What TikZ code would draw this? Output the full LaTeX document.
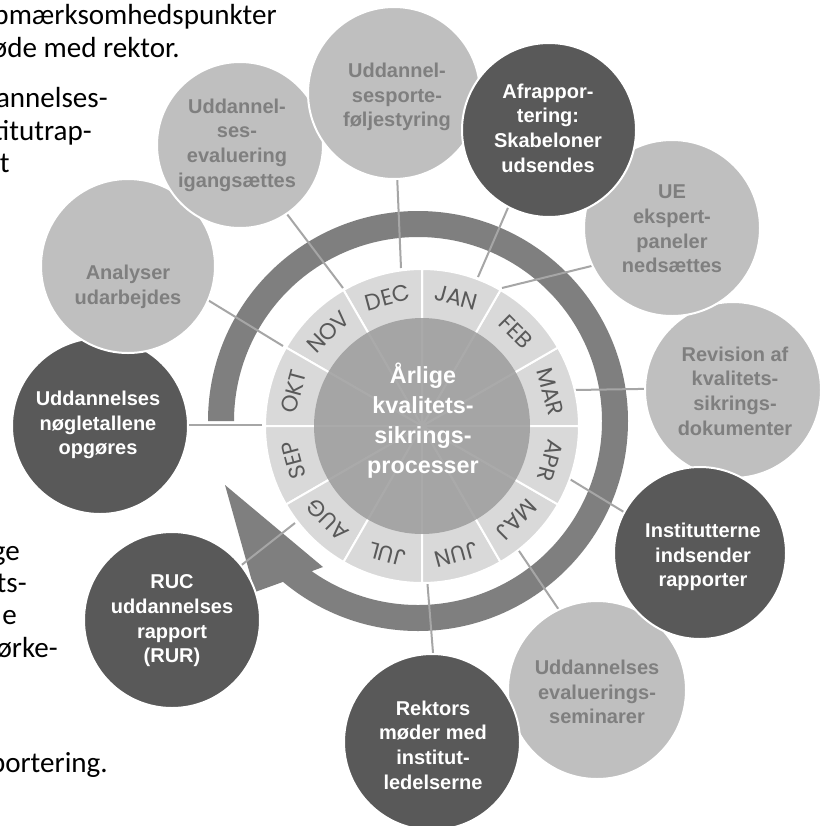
\documentclass[tikz,border=0pt]{standalone}
\usepackage{fontspec}
\setmainfont{Liberation Sans}
\newfontfamily\calfont{Carlito}
\newfontfamily\monfont{Poppins}
\usetikzlibrary{calc}
\definecolor{bandc}{HTML}{7F7F7F}
\definecolor{ringc}{HTML}{D9D9D9}
\definecolor{innerc}{HTML}{9C9C9C}
\definecolor{lightc}{HTML}{BFBFBF}
\definecolor{lighttext}{HTML}{7F7F7F}
\definecolor{darkc}{HTML}{595959}
\definecolor{monthtext}{HTML}{595959}
\definecolor{linkc}{HTML}{A6A6A6}
\begin{document}
\begin{tikzpicture}[x=0.75pt,y=0.75pt,
  bodytext/.style={font=\calfont\fontsize{21.8}{26}\selectfont, anchor=base east, inner sep=0pt, text=black},
  link/.style={draw=linkc, line width=1.5pt},
  month/.style={font=\monfont\fontsize{17}{17}\selectfont, text=monthtext, inner sep=0pt},
  lightcirc/.style={circle, fill=lightc, draw=white, line width=1.5pt, inner sep=0pt},
  darkcirc/.style={circle, fill=darkc, draw=white, line width=1.5pt, inner sep=0pt},
  ltext/.style={font=\bfseries\fontsize{15}{18.5}\selectfont, text=lighttext, align=center, inner sep=0pt},
  dtext/.style={font=\bfseries\fontsize{15}{18.5}\selectfont, text=white, align=center, inner sep=0pt},
  hubtext/.style={font=\bfseries\fontsize{17.5}{22.5}\selectfont, text=white, align=center, inner sep=0pt},
]
\useasboundingbox (0,0) rectangle (828,-825);
\clip (0,0) rectangle (828,-825);
\fill[white] (0,0) rectangle (828,-825);

% cut-off slide text on the left
\node[bodytext] (tx1) at (277,-24) {opmærksomhedspunkter};
\node[bodytext] (tx2) at (180,-57) {øde med rektor.};
\node[bodytext] (tx3) at (108,-107) {annelses-};
\node[bodytext] (tx4) at (92,-140) {titutrap-};
\node[bodytext] (tx5) at (10,-172) {t};
\node[bodytext] (tx6) at (20,-560) {ge};
\node[bodytext] (tx7) at (27,-592) {ts-};
\node[bodytext] (tx8) at (17,-624) {e};
\node[bodytext] (tx9) at (58,-657) {ørke-};
\node[bodytext] (tx10) at (108,-772) {portering.};

% circular arrow band
\coordinate (B) at (418,-421);
\fill[bandc] ([shift={(180:210)}]B) arc[start angle=180,end angle=-130,radius=210]
  -- (255,-592) -- (225,-485) -- (323,-567)
  -- ([shift={(-125.3:184)}]B) arc[start angle=-125.3,end angle=180,radius=184] -- cycle;

% connector end points
\coordinate (C) at (422,-426);
\coordinate (r1) at (343,-288);  \coordinate (e1) at (271,-193);
\coordinate (r2) at (401,-268);  \coordinate (e2) at (396,-150);
\coordinate (r3) at (478,-277);  \coordinate (e3) at (520,-180);
\coordinate (r4) at (502,-288);  \coordinate (e4) at (620,-259);
\coordinate (r5) at (575,-390);  \coordinate (e5) at (700,-388);
\coordinate (r6) at (568,-478);  \coordinate (e6) at (660,-534);
\coordinate (r7) at (517,-548);  \coordinate (e7) at (580,-641);
\coordinate (r8) at (427,-578);  \coordinate (e8) at (436,-690);
\coordinate (r9) at (295,-523);  \coordinate (e9) at (220,-582);
\coordinate (r10) at (262,-425); \coordinate (e10) at (100,-425);
\coordinate (r11) at (283,-346); \coordinate (e11) at (157,-269);
\foreach \i in {1,...,11} \draw[link] (r\i) -- (e\i);

% month ring
\foreach \a in {0,30,...,330}
  \filldraw[fill=ringc, draw=white, line width=1.5pt] (C) -- ([shift={(\a:157)}]C) arc[start angle=\a,end angle=\a+30,radius=157] -- cycle;
\foreach \m/\a in {JAN/75,FEB/45,MAR/15,APR/-15,MAJ/-45,JUN/-75,JUL/-105,AUG/-135,SEP/-165,OKT/165,NOV/135,DEC/105}
  \node[month, rotate=\a-90] (m\m) at ([shift={(\a:133)}]C) {\m};

% hub
\node[circle, minimum size=162pt, fill=innerc, fill opacity=0.85, inner sep=0pt] (hub) at (C) {};
\node[hubtext] (hubt) at (423,-421) {Årlige\\kvalitets-\\sikrings-\\processer};

% surrounding circles
\node[darkcirc, minimum size=132pt] (c10) at (100,-426) {};
\node[dtext] at (98,-425) {Uddannelses\\nøgletallene\\opgøres};
\node[lightcirc, minimum size=130.5pt] (c11) at (128,-266) {};
\node[ltext] at (128,-287) {Analyser\\udarbejdes};
\node[lightcirc, minimum size=124.5pt] (c1) at (240,-145) {};
\node[ltext] at (237,-145) {Uddannel-\\ses-\\evaluering\\igangsættes};
\node[lightcirc, minimum size=129pt] (c2) at (394,-93) {};
\node[ltext] at (397,-97) {Uddannel-\\sesporte-\\føljestyring};
\node[lightcirc, minimum size=132pt] (c5) at (733,-390) {};
\node[ltext] at (735,-391) {Revision af\\kvalitets-\\sikrings-\\dokumenter};
\node[lightcirc, minimum size=132pt] (c4) at (672,-228) {};
\node[ltext] at (672,-229) {UE\\ekspert-\\paneler\\nedsættes};
\node[darkcirc, minimum size=130.5pt] (c3) at (549,-130) {};
\node[dtext] at (548,-128) {Afrappor-\\tering:\\Skabeloner\\udsendes};
\node[lightcirc, minimum size=133.5pt] (c7) at (597,-690) {};
\node[ltext] at (597,-692) {Uddannelses\\evaluerings-\\seminarer};
\node[darkcirc, minimum size=129pt] (c6) at (700,-553) {};
\node[dtext] at (703,-557) {Institutterne\\indsender\\rapporter};
\node[darkcirc, minimum size=132pt] (c8) at (432,-742) {};
\node[dtext] at (433,-745) {Rektors\\møder med\\institut-\\ledelserne};
\node[darkcirc, minimum size=132pt] (c9) at (172,-620) {};
\node[dtext] at (172,-621) {RUC\\uddannelses\\rapport\\(RUR)};
\end{tikzpicture}
\end{document}
